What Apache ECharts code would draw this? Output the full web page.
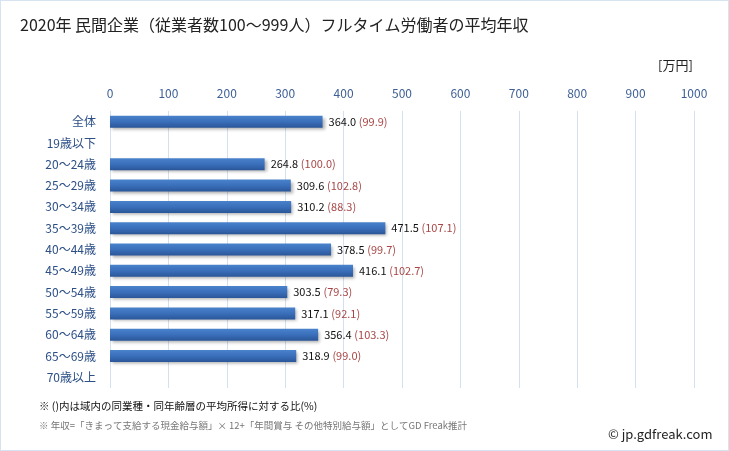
<!DOCTYPE html>
<html><head><meta charset="utf-8">
<script src="https://cdn.jsdelivr.net/npm/echarts@6/dist/echarts.min.js"></script>
<style>html,body{margin:0;padding:0;background:#fff}#c{width:729px;height:451px;box-sizing:border-box;border:1px solid #d6e3f0}</style>
</head><body><div id="c"></div>
<script>
const categories = ['全体','19歳以下','20～24歳','25～29歳','30～34歳','35～39歳','40～44歳','45～49歳','50～54歳','55～59歳','60～64歳','65～69歳','70歳以上'];
const incomes = [364.0, null, 264.8, 309.6, 310.2, 471.5, 378.5, 416.1, 303.5, 317.1, 356.4, 318.9, null];
const ratios = [99.9, null, 100.0, 102.8, 88.3, 107.1, 99.7, 102.7, 79.3, 92.1, 103.3, 99.0, null];
const xTicks = [0,100,200,300,400,500,600,700,800,900,1000];

const chart = echarts.init(document.getElementById('c'));
const font = '"Noto Sans CJK JP", "Noto Sans", sans-serif';
chart.setOption({
  animation: false,
  textStyle: {fontFamily: font},
  title: {text: '2020年 民間企業（従業者数100～999人）フルタイム労働者の平均年収', left: 14, top: 11,
    textStyle: {fontSize: 16, fontWeight: 'normal', color: '#222', fontFamily: font}},
  grid: {left: 109, right: 34, top: 110, bottom: 62, containLabel: false},
  xAxis: {type: 'value', position: 'top', min: xTicks[0], max: xTicks[xTicks.length-1], interval: 100,
    axisLine: {show: false}, axisTick: {show: false},
    axisLabel: {color: '#3d5f95', fontSize: 12, margin: 12, fontFamily: font, formatter: v => String(v)},
    splitLine: {lineStyle: {color: '#d3e0ee', width: 1}}},
  yAxis: {type: 'category', data: categories, inverse: true,
    axisLine: {show: false}, axisTick: {show: false},
    axisLabel: {color: '#2c4f86', fontSize: 12, margin: 14, fontFamily: font}},
  series: [{type: 'bar', barWidth: 12,
    data: incomes.map((v, i) => ({value: v, ratio: ratios[i]})),
    itemStyle: {color: new echarts.graphic.LinearGradient(0,0,0,1,[{offset:0,color:'#4a82cc'},{offset:0.5,color:'#3a6fba'},{offset:1,color:'#2a5699'}]),
      shadowColor: 'rgba(0,0,0,0.3)', shadowBlur: 3, shadowOffsetX: 2, shadowOffsetY: 2},
    label: {show: true, position: 'right', distance: 6, fontFamily: font,
      formatter: p => p.value == null ? '' : '{a|' + p.value.toFixed(1) + '} {b|(' + p.data.ratio.toFixed(1) + ')}',
      rich: {a: {color: '#111', fontSize: 11, fontFamily: font}, b: {color: '#a84646', fontSize: 11, fontFamily: font}}}
  }],
  graphic: [
    {type: 'text', left: 657, top: 58, style: {text: '[万円]', fontSize: 13, fill: '#222', fontFamily: font}},
    {type: 'text', left: 38, top: 400, style: {text: '※ ()内は域内の同業種・同年齢層の平均所得に対する比(%)', fontSize: 10.5, fill: '#111', fontFamily: font}},
    {type: 'text', left: 38, top: 420, style: {text: '※ 年収=「きまって支給する現金給与額」× 12+「年間賞与 その他特別給与額」としてGD Freak推計', fontSize: 9.5, fill: '#777', fontFamily: font}},
    {type: 'text', left: 607, top: 427, style: {text: '© jp.gdfreak.com', fontSize: 13, fill: '#222', fontFamily: font}}
  ]
});
</script></body></html>
